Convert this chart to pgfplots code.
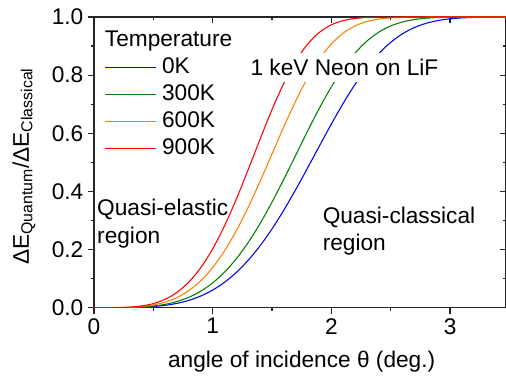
\documentclass[border=0pt]{standalone}
\usepackage{fontspec}
\setmainfont{Liberation Sans}
\usepackage{pgfplots}
\pgfplotsset{compat=1.18}
\usepackage{pgfplotstable}
\definecolor{cA}{RGB}{0,0,255}
\definecolor{cB}{RGB}{0,128,0}
\definecolor{cC}{RGB}{255,128,0}
\definecolor{cD}{RGB}{255,0,0}
\newcommand\cf{\fontsize{17}{20.4}\selectfont}

\pgfplotstableread{
x y
0.0 0.0000
0.1 0.0000
0.2 0.0001
0.3 0.0005
0.4 0.0016
0.5 0.0039
0.6 0.0081
0.7 0.0149
0.8 0.0253
0.9 0.0402
1.0 0.0606
1.1 0.0874
1.2 0.1216
1.3 0.1635
1.4 0.2135
1.5 0.2712
1.6 0.3361
1.7 0.4067
1.8 0.4811
1.9 0.5571
2.0 0.6321
2.1 0.7034
2.2 0.7687
2.3 0.8261
2.4 0.8743
2.5 0.9130
2.6 0.9425
2.7 0.9639
2.8 0.9785
2.9 0.9880
3.0 0.9937
3.1 0.9969
3.2 0.9986
3.3 0.9994
3.4 0.9998
3.5 1.0000
}\tblA

\pgfplotstableread{
x y
0.0 0.0000
0.1 0.0000
0.2 0.0001
0.3 0.0007
0.4 0.0023
0.5 0.0056
0.6 0.0115
0.7 0.0212
0.8 0.0359
0.9 0.0568
1.0 0.0853
1.1 0.1224
1.2 0.1688
1.3 0.2249
1.4 0.2901
1.5 0.3633
1.6 0.4425
1.7 0.5251
1.8 0.6079
1.9 0.6872
2.0 0.7599
2.1 0.8235
2.2 0.8762
2.3 0.9175
2.4 0.9481
2.5 0.9693
2.6 0.9830
2.7 0.9913
2.8 0.9958
2.9 0.9982
3.0 0.9993
3.1 0.9997
3.2 0.9999
3.3 1.0000
3.4 1.0000
3.5 1.0000
}\tblB

\pgfplotstableread{
x y
0.0 0.0000
0.1 0.0000
0.2 0.0002
0.3 0.0012
0.4 0.0038
0.5 0.0093
0.6 0.0191
0.7 0.0351
0.8 0.0591
0.9 0.0930
1.0 0.1383
1.1 0.1958
1.2 0.2655
1.3 0.3463
1.4 0.4355
1.5 0.5293
1.6 0.6230
1.7 0.7115
1.8 0.7904
1.9 0.8562
2.0 0.9076
2.1 0.9447
2.2 0.9694
2.3 0.9845
2.4 0.9928
2.5 0.9970
2.6 0.9989
2.7 0.9996
2.8 0.9999
2.9 1.0000
3.0 1.0000
3.5 1.0000
}\tblC

\pgfplotstableread{
x y
0.0 0.0000
0.1 0.0000
0.2 0.0004
0.3 0.0018
0.4 0.0058
0.5 0.0140
0.6 0.0289
0.7 0.0529
0.8 0.0885
0.9 0.1379
1.0 0.2025
1.1 0.2819
1.2 0.3744
1.3 0.4759
1.4 0.5806
1.5 0.6819
1.6 0.7729
1.7 0.8488
1.8 0.9070
1.9 0.9476
2.0 0.9732
2.1 0.9877
2.2 0.9950
2.3 0.9982
2.4 0.9994
2.5 0.9998
2.6 1.0000
3.0 1.0000
3.5 1.0000
}\tblD

\begin{document}
\begin{tikzpicture}
\pgfplotsset{
  base/.style={
    scale only axis, width=309pt, height=218pt,
    xmin=0, xmax=3.471, ymin=0, ymax=1,
    xtick={0,1,2,3}, minor xtick={0.5,1.5,2.5},
    ytick={0,0.2,0.4,0.6,0.8,1.0}, minor ytick={0.1,0.3,0.5,0.7,0.9},
    major tick length=4.5pt, minor tick length=2.6pt,
    axis line style={line width=0.9pt, black!85},
    every tick/.style={line width=0.9pt, black!85},
    tick label style={font=\cf},
    /pgf/number format/assume math mode=true,
  }
}
\begin{axis}[base, xtick pos=right, ytick pos=right, tick align=inside,
  xticklabels={}, yticklabels={}]
\end{axis}
\begin{axis}[base, xtick pos=left, ytick pos=left, tick align=outside,
  y tick label style={/pgf/number format/.cd, fixed, fixed zerofill, precision=1},
  xlabel={angle of incidence θ (deg.)},
  xlabel style={font=\cf, at={(axis description cs:0.504,-0.2074)}, anchor=base},
  ylabel={ΔE\textsubscript{Quantum}/ΔE\textsubscript{Classical}},
  ylabel style={font=\cf, at={(axis description cs:-0.158,0.486)}, anchor=base},
  legend style={at={(axis description cs:0.026,0.8614)}, anchor=north west,
    draw=none, fill=none, inner sep=0pt, outer sep=0pt,
    row sep=5.4pt, column sep=4.5pt, font=\cf,
    nodes={inner sep=0pt, text height=12pt, text depth=3pt}},
  legend cell align=left,
  legend image code/.code={\draw[#1] (0pt,0pt) -- (37.7pt,0pt);},
]
\coordinate (sw) at (rel axis cs:0,0);
\coordinate (ne) at (rel axis cs:1,1);
\addplot[cA, line width=0.8pt, smooth] table[x=x,y=y] {\tblA};
\addlegendentry{0K}
\addplot[cB, line width=0.8pt, smooth] table[x=x,y=y] {\tblB};
\addlegendentry{300K}
\addplot[cC, line width=0.8pt, smooth] table[x=x,y=y] {\tblC};
\addlegendentry{600K}
\addplot[cD, line width=0.8pt, smooth] table[x=x,y=y] {\tblD};
\addlegendentry{900K}
\node[fill=white, inner xsep=3pt, inner ysep=4.5pt, anchor=center, font=\cf] at (axis cs:2.11,0.826) {1 keV Neon on LiF};
\node[anchor=base west, inner sep=0pt, font=\cf] at (axis cs:0.09,0.898) {Temperature};
\node[anchor=base west, inner sep=0pt, font=\cf] at (axis cs:0.025,0.3165) {Quasi-elastic};
\node[anchor=base west, inner sep=0pt, font=\cf] at (axis cs:0.025,0.2215) {region};
\node[anchor=base west, inner sep=0pt, font=\cf] at (axis cs:1.925,0.2906) {Quasi-classical};
\node[anchor=base west, inner sep=0pt, font=\cf] at (axis cs:1.925,0.196) {region};
\end{axis}
\pgfresetboundingbox
\path[use as bounding box] ([shift={(-70.5pt,-52.7pt)}]sw) rectangle ([shift={(0pt,12.75pt)}]ne);
\end{tikzpicture}
\end{document}
